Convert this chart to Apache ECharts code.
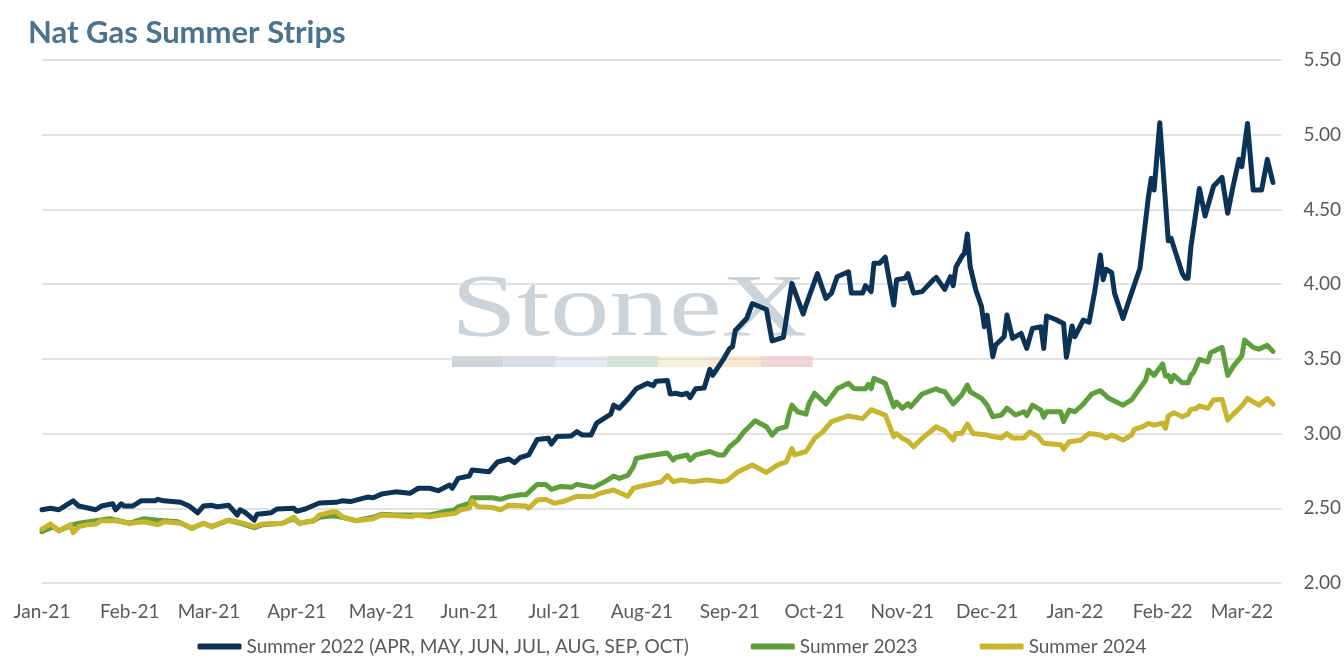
<!DOCTYPE html>
<html><head><meta charset="utf-8">
<script src="https://cdn.jsdelivr.net/npm/echarts@6.0.0/dist/echarts.min.js"></script>
<style>html,body{margin:0;padding:0;background:#fff}#c{width:1344px;height:664px}</style>
</head><body><div id="c"></div>
<script>
const monthNames = ['Jan','Feb','Mar','Apr','May','Jun','Jul','Aug','Sep','Oct','Nov','Dec'];
const axisStart = '2021-01-01';
const axisEnd = '2022-03-15';
const seriesNames = ['Summer 2022 (APR, MAY, JUN, JUL, AUG, SEP, OCT)', 'Summer 2023', 'Summer 2024'];

const dates22 = [
 '2021-01-01','2021-01-04','2021-01-07','2021-01-09','2021-01-12','2021-01-14','2021-01-20','2021-01-22','2021-01-26','2021-01-27','2021-01-29','2021-01-30',
 '2021-02-02','2021-02-05','2021-02-10','2021-02-11','2021-02-13','2021-02-19','2021-02-22','2021-02-25','2021-02-27',
 '2021-03-02','2021-03-04','2021-03-08','2021-03-11','2021-03-12','2021-03-14','2021-03-17','2021-03-18','2021-03-23','2021-03-25','2021-03-31',
 '2021-04-01','2021-04-04','2021-04-09','2021-04-15','2021-04-17','2021-04-20','2021-04-26','2021-04-28',
 '2021-05-01','2021-05-06','2021-05-11','2021-05-14','2021-05-18','2021-05-21','2021-05-25','2021-05-26','2021-05-28',
 '2021-06-01','2021-06-02','2021-06-08','2021-06-11','2021-06-15','2021-06-17','2021-06-19','2021-06-22','2021-06-25','2021-06-29','2021-06-30',
 '2021-07-02','2021-07-07','2021-07-09','2021-07-11','2021-07-14','2021-07-16','2021-07-21','2021-07-22','2021-07-24','2021-07-27','2021-07-30',
 '2021-08-03','2021-08-05','2021-08-06','2021-08-10','2021-08-11','2021-08-13','2021-08-15','2021-08-17','2021-08-18','2021-08-20','2021-08-23','2021-08-25','2021-08-26','2021-08-30',
 '2021-09-01','2021-09-02','2021-09-03','2021-09-07','2021-09-09','2021-09-14','2021-09-16','2021-09-20','2021-09-23','2021-09-27','2021-09-28',
 '2021-10-02','2021-10-05','2021-10-07','2021-10-09','2021-10-13','2021-10-14','2021-10-18','2021-10-19','2021-10-21','2021-10-22','2021-10-24','2021-10-26','2021-10-29','2021-10-30',
 '2021-11-02','2021-11-03','2021-11-05','2021-11-08','2021-11-12','2021-11-13','2021-11-16','2021-11-18','2021-11-19','2021-11-20','2021-11-22','2021-11-23','2021-11-24','2021-11-25','2021-11-27','2021-11-29','2021-11-30',
 '2021-12-01','2021-12-03','2021-12-04','2021-12-07','2021-12-08','2021-12-10','2021-12-13','2021-12-15','2021-12-17','2021-12-20','2021-12-21','2021-12-22','2021-12-25','2021-12-28','2021-12-29','2021-12-31',
 '2022-01-01','2022-01-04','2022-01-06','2022-01-08','2022-01-10','2022-01-11','2022-01-12','2022-01-14','2022-01-15','2022-01-18','2022-01-21','2022-01-24','2022-01-27','2022-01-28','2022-01-29','2022-01-31',
 '2022-02-03','2022-02-04','2022-02-08','2022-02-09','2022-02-10','2022-02-11','2022-02-14','2022-02-16','2022-02-19','2022-02-22','2022-02-24','2022-02-26','2022-02-28',
 '2022-03-01','2022-03-03','2022-03-05','2022-03-08','2022-03-10','2022-03-12'
];
const values22 = [
 2.49,2.50,2.49,2.515,2.55,2.515,2.49,2.515,2.53,2.49,2.53,2.515,
 2.515,2.55,2.55,2.56,2.55,2.54,2.515,2.47,2.515,
 2.52,2.51,2.52,2.455,2.49,2.47,2.42,2.46,2.47,2.495,2.50,
 2.48,2.495,2.535,2.54,2.55,2.545,2.575,2.57,
 2.595,2.61,2.60,2.634,2.634,2.618,2.656,2.634,2.70,
 2.716,2.756,2.745,2.81,2.83,2.805,2.84,2.857,2.96,2.968,2.93,
 2.98,2.984,3.013,2.99,2.99,3.07,3.13,3.19,3.17,3.23,3.30,
 3.336,3.32,3.35,3.355,3.265,3.27,3.26,3.27,3.24,3.30,3.305,3.43,3.39,3.504,
 3.57,3.58,3.69,3.77,3.87,3.83,3.62,3.644,4.005,3.80,3.86,
 4.07,3.905,3.94,4.05,4.083,3.94,3.94,3.99,3.95,4.14,4.14,4.18,3.86,4.03,
 4.04,4.07,3.94,3.95,4.03,4.045,3.965,4.05,3.99,4.117,4.184,4.207,4.336,4.117,3.96,3.85,3.715,
 3.793,3.514,3.593,3.648,3.793,3.637,3.67,3.57,3.704,3.715,3.57,3.787,3.765,3.737,3.51,3.72,
 3.648,3.76,3.745,3.95,4.195,4.03,4.10,4.077,3.94,3.77,3.94,4.106,4.585,4.708,4.63,5.08,
 4.29,4.306,4.07,4.04,4.04,4.25,4.64,4.456,4.655,4.715,4.474,4.663,4.835,
 4.786,5.075,4.63,4.63,4.835,4.68
];

const dates23 = [
 '2021-01-01','2021-01-05','2021-01-07','2021-01-12','2021-01-14','2021-01-20','2021-01-25',
 '2021-02-01','2021-02-06','2021-02-11','2021-02-18','2021-02-23','2021-02-27',
 '2021-03-02','2021-03-08','2021-03-12','2021-03-17','2021-03-20','2021-03-27','2021-03-31',
 '2021-04-02','2021-04-07','2021-04-09','2021-04-14','2021-04-17','2021-04-22','2021-04-28',
 '2021-05-01','2021-05-06','2021-05-18','2021-05-23','2021-05-27','2021-05-28',
 '2021-06-01','2021-06-02','2021-06-09','2021-06-12','2021-06-15','2021-06-19','2021-06-21','2021-06-25','2021-06-28','2021-06-30',
 '2021-07-03','2021-07-07','2021-07-09','2021-07-15','2021-07-20','2021-07-22','2021-07-24','2021-07-27','2021-07-29','2021-07-30',
 '2021-08-03','2021-08-10','2021-08-12','2021-08-13','2021-08-17','2021-08-18','2021-08-20','2021-08-25','2021-08-28','2021-08-30',
 '2021-09-01','2021-09-04','2021-09-06','2021-09-10','2021-09-14','2021-09-16','2021-09-18','2021-09-21','2021-09-22','2021-09-23','2021-09-25','2021-09-28','2021-09-29',
 '2021-10-01','2021-10-05','2021-10-09','2021-10-13','2021-10-15','2021-10-19','2021-10-20','2021-10-21','2021-10-22','2021-10-26','2021-10-29','2021-10-30',
 '2021-11-01','2021-11-03','2021-11-04','2021-11-08','2021-11-13','2021-11-14','2021-11-16','2021-11-19','2021-11-22','2021-11-24','2021-11-25','2021-11-29',
 '2021-12-01','2021-12-03','2021-12-06','2021-12-08','2021-12-11','2021-12-14','2021-12-15','2021-12-17','2021-12-20','2021-12-21','2021-12-22','2021-12-27','2021-12-28','2021-12-30',
 '2022-01-01','2022-01-04','2022-01-07','2022-01-10','2022-01-13','2022-01-18','2022-01-21','2022-01-26','2022-01-27','2022-01-29',
 '2022-02-01','2022-02-02','2022-02-03','2022-02-04','2022-02-05','2022-02-08','2022-02-10','2022-02-11','2022-02-12','2022-02-14','2022-02-17','2022-02-18','2022-02-22','2022-02-24','2022-02-26',
 '2022-03-01','2022-03-02','2022-03-05','2022-03-07','2022-03-10','2022-03-12'
];
const values23 = [
 2.343,2.377,2.35,2.39,2.40,2.417,2.43,
 2.40,2.43,2.42,2.41,2.366,2.40,
 2.377,2.42,2.40,2.37,2.39,2.40,2.43,
 2.40,2.417,2.44,2.45,2.44,2.417,2.44,
 2.46,2.455,2.455,2.477,2.49,2.51,
 2.533,2.57,2.57,2.56,2.578,2.59,2.59,2.66,2.66,2.627,
 2.645,2.64,2.66,2.64,2.69,2.716,2.70,2.72,2.778,2.834,
 2.85,2.87,2.823,2.84,2.857,2.823,2.857,2.88,2.857,2.857,
 2.912,2.96,3.01,3.086,3.046,2.99,3.03,3.046,3.13,3.19,3.146,3.13,3.20,
 3.27,3.198,3.30,3.336,3.30,3.30,3.33,3.30,3.37,3.336,3.18,3.21,
 3.17,3.20,3.18,3.265,3.30,3.29,3.28,3.198,3.258,3.325,3.28,3.236,
 3.19,3.113,3.124,3.17,3.124,3.146,3.12,3.19,3.157,3.11,3.146,3.146,3.08,3.157,
 3.146,3.198,3.265,3.287,3.236,3.19,3.225,3.358,3.425,3.39,
 3.466,3.385,3.39,3.347,3.39,3.34,3.34,3.39,3.41,3.497,3.48,3.541,3.577,3.39,3.45,
 3.52,3.626,3.577,3.565,3.59,3.55
];

const dates24 = [
 '2021-01-01','2021-01-04','2021-01-07','2021-01-11','2021-01-12','2021-01-14','2021-01-17','2021-01-20','2021-01-22','2021-01-27',
 '2021-02-01','2021-02-06','2021-02-11','2021-02-13','2021-02-19','2021-02-23','2021-02-27',
 '2021-03-02','2021-03-07','2021-03-09','2021-03-13','2021-03-17','2021-03-20','2021-03-27','2021-03-31',
 '2021-04-02','2021-04-07','2021-04-09','2021-04-14','2021-04-15','2021-04-17','2021-04-20','2021-04-22','2021-04-28',
 '2021-05-01','2021-05-06','2021-05-12','2021-05-13','2021-05-18','2021-05-22','2021-05-27','2021-05-29',
 '2021-06-01','2021-06-02','2021-06-04','2021-06-09','2021-06-12','2021-06-15','2021-06-21','2021-06-22','2021-06-25','2021-06-28',
 '2021-07-01','2021-07-04','2021-07-09','2021-07-13','2021-07-15','2021-07-17','2021-07-22','2021-07-27','2021-07-29','2021-07-31',
 '2021-08-08','2021-08-10','2021-08-12','2021-08-15','2021-08-19','2021-08-24','2021-08-29','2021-08-31',
 '2021-09-04','2021-09-09','2021-09-14','2021-09-18','2021-09-21','2021-09-23','2021-09-24','2021-09-28',
 '2021-10-01','2021-10-04','2021-10-07','2021-10-13','2021-10-18','2021-10-21','2021-10-26','2021-10-29','2021-10-30',
 '2021-11-01','2021-11-03','2021-11-05','2021-11-08','2021-11-13','2021-11-14','2021-11-16','2021-11-19','2021-11-20','2021-11-22','2021-11-24','2021-11-26',
 '2021-12-01','2021-12-03','2021-12-06','2021-12-08','2021-12-10','2021-12-14','2021-12-16','2021-12-19','2021-12-21','2021-12-24','2021-12-27','2021-12-28','2021-12-30',
 '2022-01-03','2022-01-06','2022-01-10','2022-01-12','2022-01-14','2022-01-18','2022-01-21','2022-01-22','2022-01-25','2022-01-27','2022-01-29',
 '2022-02-01','2022-02-02','2022-02-03','2022-02-05','2022-02-08','2022-02-10','2022-02-11','2022-02-13','2022-02-14','2022-02-17','2022-02-19','2022-02-22','2022-02-24','2022-02-26',
 '2022-03-01','2022-03-03','2022-03-07','2022-03-10','2022-03-12'
];
const values24 = [
 2.36,2.395,2.35,2.39,2.337,2.377,2.39,2.395,2.417,2.417,
 2.40,2.41,2.39,2.41,2.40,2.366,2.40,
 2.377,2.417,2.417,2.40,2.377,2.395,2.40,2.44,
 2.40,2.417,2.455,2.477,2.477,2.444,2.426,2.417,2.43,
 2.455,2.45,2.444,2.455,2.444,2.455,2.466,2.49,
 2.50,2.55,2.51,2.505,2.49,2.52,2.515,2.50,2.555,2.56,
 2.533,2.545,2.58,2.578,2.58,2.60,2.622,2.58,2.634,2.645,
 2.678,2.72,2.678,2.69,2.678,2.69,2.678,2.685,
 2.745,2.79,2.74,2.79,2.81,2.90,2.857,2.88,
 2.968,3.013,3.08,3.118,3.10,3.16,3.124,2.98,3.00,
 2.968,2.95,2.912,2.968,3.046,3.035,3.02,2.957,3.00,3.00,3.064,3.00,
 2.99,2.98,2.97,3.00,2.97,2.97,3.01,2.98,2.935,2.93,2.925,2.895,2.945,
 2.955,3.00,2.99,2.97,2.99,2.957,2.99,3.028,3.046,3.068,3.057,
 3.07,3.035,3.118,3.14,3.113,3.13,3.162,3.168,3.185,3.168,3.225,3.23,3.09,3.13,
 3.185,3.235,3.19,3.235,3.198
];

const seriesColors = ['#0b3357', '#5c9f3b', '#c9b42d'];
const FONT = 'Lato, "Noto Sans", sans-serif';

// daily category axis
const categories = [];
for (let t = Date.parse(axisStart + 'T00:00:00Z'); t <= Date.parse(axisEnd + 'T00:00:00Z'); t += 86400000) {
  categories.push(new Date(t).toISOString().slice(0, 10));
}
const catIndex = {};
categories.forEach((c, i) => { catIndex[c] = i; });
function toFull(dates, vals) {
  const arr = new Array(categories.length).fill(null);
  const n = Math.min(dates.length, vals.length);
  for (let i = 0; i < n; i++) {
    const k = catIndex[dates[i]];
    if (k !== undefined) arr[k] = vals[i];
  }
  return arr;
}
const seriesData = [toFull(dates22, values22), toFull(dates23, values23), toFull(dates24, values24)];

const wmColors = ['#cdd4db', '#d5dfe9', '#e2ecf6', '#d5e4d8', '#f5f2d9', '#fae9cb', '#f2d4d4'];
const graphics = [{
  type: 'text', x: 451, y: 268, z: -1, scaleX: 1.35, silent: true,
  style: { text: 'StoneX', font: '88px "Liberation Serif", "DejaVu Serif", serif', fill: '#cbd3db', textAlign: 'left' }
}];
wmColors.forEach((c, i) => {
  graphics.push({ type: 'rect', z: -1, silent: true, shape: { x: 452 + i * 51.5, y: 356, width: 51.5, height: 11 }, style: { fill: c } });
});

const chart = echarts.init(document.getElementById('c'), null, { renderer: 'canvas' });
chart.setOption({
  animation: false,
  backgroundColor: '#ffffff',
  title: {
    text: 'Nat Gas Summer Strips', left: 23, top: 12,
    textStyle: { fontSize: 31, fontWeight: 'bold', color: '#4a7390', fontFamily: FONT }
  },
  graphic: graphics,
  grid: { left: 42, right: 61, top: 60, bottom: 81, containLabel: false },
  legend: {
    bottom: 3, left: 'center', icon: 'roundRect', itemWidth: 44, itemHeight: 6, itemGap: 62,
    textStyle: { color: '#595959', fontSize: 19, fontFamily: FONT },
    data: seriesNames
  },
  xAxis: {
    type: 'category', data: categories, boundaryGap: false,
    axisLine: { show: false }, axisTick: { show: false }, splitLine: { show: false },
    axisLabel: {
      interval: (i, v) => v.slice(8, 10) === '01',
      formatter: v => monthNames[parseInt(v.slice(5, 7), 10) - 1] + '-' + v.slice(2, 4),
      color: '#595959', fontSize: 19, fontFamily: FONT, margin: 19
    }
  },
  yAxis: {
    type: 'value', position: 'right', min: 2, max: 5.5, interval: 0.5,
    axisLine: { show: false }, axisTick: { show: false },
    splitLine: { lineStyle: { color: '#d9d9d9', width: 1.6 } },
    axisLabel: { formatter: v => v.toFixed(2), color: '#595959', fontSize: 19, fontFamily: FONT, margin: 22 }
  },
  series: seriesNames.map((name, i) => ({
    name, type: 'line', data: seriesData[i], connectNulls: true, symbol: 'none', showSymbol: false,
    itemStyle: { color: seriesColors[i] },
    lineStyle: { color: seriesColors[i], width: 5, cap: 'round', join: 'round' },
    z: 2 + i
  }))
});
</script>
</body></html>
